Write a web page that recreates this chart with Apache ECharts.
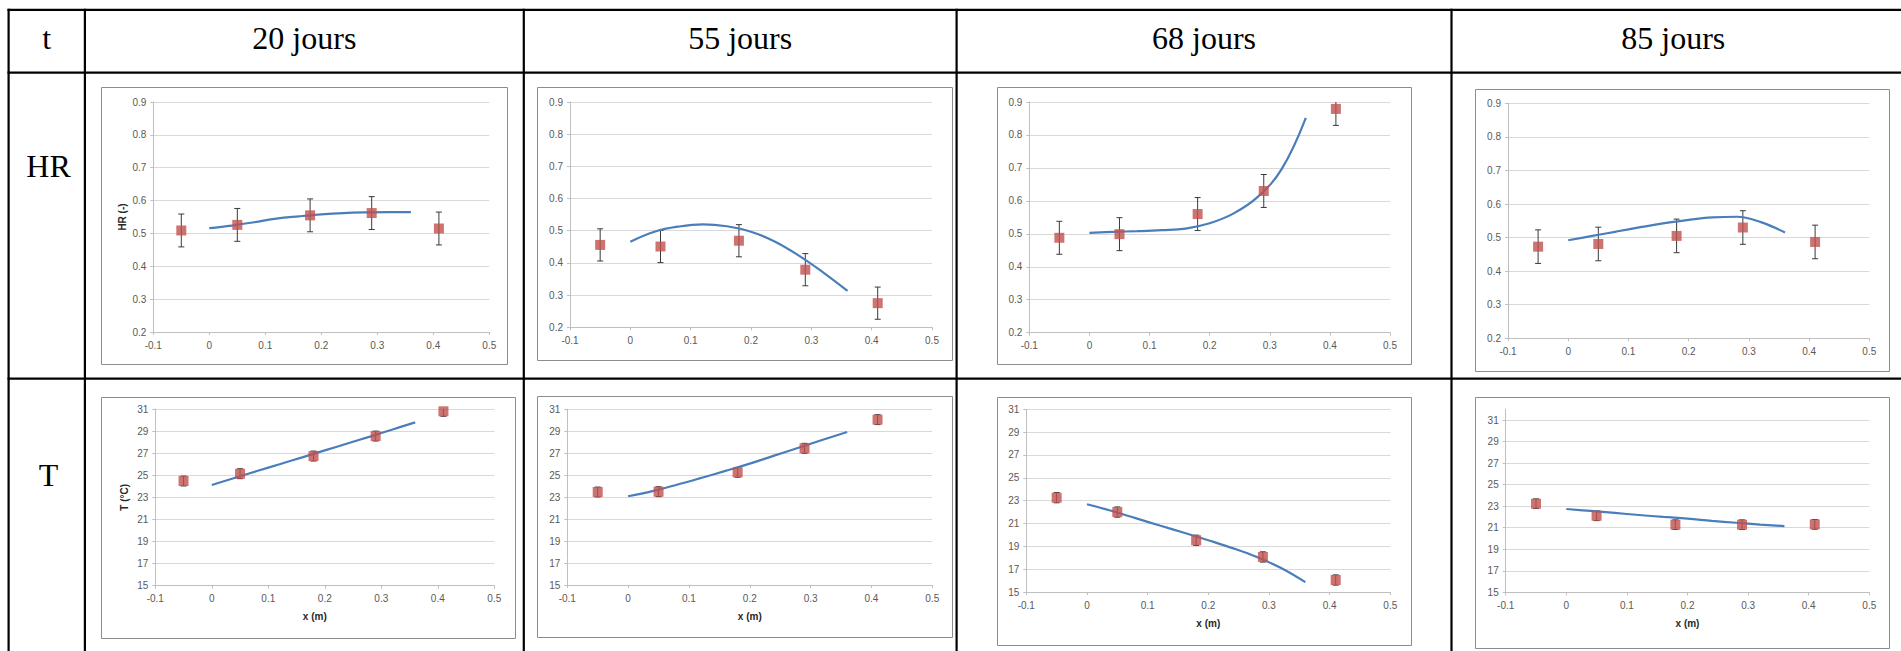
<!DOCTYPE html>
<html>
<head>
<meta charset="utf-8">
<script src="https://cdn.jsdelivr.net/npm/echarts@6/dist/echarts.min.js"></script>
<style>
  html, body { margin: 0; padding: 0; background: #ffffff; }
  #wrap { position: relative; width: 1901px; height: 651px; overflow: hidden; }
  #chart { position: absolute; left: 0; top: 0; width: 1901px; height: 651px; }
  #table { position: absolute; left: 0; top: 0; width: 1901px; height: 651px; pointer-events: none; }
</style>
</head>
<body>
<div id="wrap">
  <div id="chart"></div>
  <svg id="table" width="1901" height="651" xmlns="http://www.w3.org/2000/svg"></svg>
</div>
<script>
// ---------------- data ----------------
const columnTitles = ['20 jours', '55 jours', '68 jours', '85 jours'];
const cornerLabel = 't';
const rowLabels = ['HR', 'T'];

const xPos = [-0.05, 0.05, 0.18, 0.29, 0.41];

const hr20 = [0.509, 0.526, 0.555, 0.562, 0.515];
const hr55 = [0.456, 0.451, 0.469, 0.379, 0.275];
const hr68 = [0.488, 0.499, 0.560, 0.630, 0.879];
const hr85 = [0.473, 0.481, 0.505, 0.530, 0.487];
const hrErr = [0.05, 0.05, 0.05, 0.05, 0.05];

const t20 = [24.48, 25.14, 26.74, 28.55, 30.79];
const t55 = [23.47, 23.50, 25.26, 27.45, 30.06];
const t68 = [23.26, 22.00, 19.53, 18.07, 16.05];
const t85 = [23.23, 22.11, 21.28, 21.28, 21.31];
const tErr = [0.45, 0.45, 0.45, 0.45, 0.45];

const fitX = [0, 0.04, 0.08, 0.12, 0.16, 0.20, 0.24, 0.28, 0.32, 0.36];
const hr20Fit = [0.516, 0.524, 0.534, 0.545, 0.552, 0.558, 0.562, 0.564, 0.565, 0.565];
const hr55Fit = [0.466, 0.497, 0.513, 0.520, 0.514, 0.497, 0.466, 0.422, 0.370, 0.313];
const hr68Fit = [0.503, 0.506, 0.508, 0.511, 0.516, 0.532, 0.562, 0.612, 0.697, 0.852];
const hr85Fit = [0.492, 0.505, 0.518, 0.531, 0.543, 0.553, 0.560, 0.562, 0.546, 0.515];
const t20Fit = [24.12, 24.75, 25.38, 26.00, 26.62, 27.25, 27.88, 28.50, 29.15, 29.79];
const t55Fit = [23.08, 23.55, 24.13, 24.75, 25.39, 26.05, 26.78, 27.50, 28.22, 28.94];
const t68Fit = [22.68, 22.11, 21.47, 20.82, 20.19, 19.53, 18.84, 18.06, 17.10, 15.86];
const t85Fit = [22.74, 22.56, 22.37, 22.18, 22.00, 21.84, 21.64, 21.46, 21.29, 21.15];

const xTicks = { min: -0.1, max: 0.5, interval: 0.1 };
const hrTicks = { min: 0.2, max: 0.9, interval: 0.1 };
const tTicks = { min: 15, max: 31, interval: 2 };
const tTicksLast = { min: 15, max: 32, interval: 2 };

const hrTitle = 'HR (-)';
const tTitle = 'T (°C)';
const xTitle = 'x (m)';

// ---------------- layout (pixels) ----------------
const panels = [
  { vals: hr20, err: hrErr, fit: hr20Fit, ax: hrTicks, yName: hrTitle, xName: '', g: [153.3, 102, 489.3, 332], box: [101.3, 87.3, 507.3, 364] },
  { vals: hr55, err: hrErr, fit: hr55Fit, ax: hrTicks, yName: '', xName: '', g: [570, 102, 932, 327.3], box: [537.3, 86.7, 952, 359.3] },
  { vals: hr68, err: hrErr, fit: hr68Fit, ax: hrTicks, yName: '', xName: '', g: [1029.3, 102, 1390, 332.7], box: [996.7, 87.3, 1410.3, 364.7] },
  { vals: hr85, err: hrErr, fit: hr85Fit, ax: hrTicks, yName: '', xName: '', g: [1508, 103.3, 1869.3, 338.3], box: [1475.3, 88.7, 1889.3, 371] },
  { vals: t20, err: tErr, fit: t20Fit, ax: tTicks, yName: tTitle, xName: xTitle, xShift: 20, g: [155.3, 409, 494.3, 585.7], box: [100.7, 397, 514.3, 638.3] },
  { vals: t55, err: tErr, fit: t55Fit, ax: tTicks, yName: '', xName: xTitle, g: [567.3, 409.3, 932.3, 585], box: [537.3, 396.3, 952.7, 637] },
  { vals: t68, err: tErr, fit: t68Fit, ax: tTicks, yName: '', xName: xTitle, g: [1026.3, 409.3, 1390.3, 592], box: [996.7, 397, 1410.3, 645] },
  { vals: t85, err: tErr, fit: t85Fit, ax: tTicksLast, yName: '', xName: xTitle, g: [1505.7, 409.3, 1869.3, 592.3], box: [1475.3, 397, 1889.3, 647.7] }
];

const labelFont = 'Liberation Sans';
const axisGray = '#bfbfbf';
const gridGray = '#d9d9d9';
const labelColor = '#595959';

const grids = [], xAxes = [], yAxes = [], series = [], graphics = [];

panels.forEach((p, i) => {
  const [l, t, r, b] = p.g;
  grids.push({ left: l, top: t, width: r - l, height: b - t, containLabel: false });
  xAxes.push({
    type: 'value', gridIndex: i, min: xTicks.min, max: xTicks.max, interval: xTicks.interval,
    name: p.xName, nameLocation: 'middle', nameGap: 26,
    nameTextStyle: { fontFamily: labelFont, fontSize: 10, fontWeight: 'bold', color: '#262626',
      padding: p.xShift ? [0, p.xShift, 0, 0] : 0 },
    axisLine: { show: true, onZero: false, lineStyle: { color: axisGray, width: 1 } },
    axisTick: { show: true, length: 3, lineStyle: { color: axisGray } },
    axisLabel: { color: labelColor, fontFamily: labelFont, fontSize: 10, margin: 8,
      formatter: v => String(Math.round(v * 10) / 10) },
    splitLine: { show: false }
  });
  yAxes.push({
    type: 'value', gridIndex: i, min: p.ax.min, max: p.ax.max, interval: p.ax.interval,
    name: p.yName, nameLocation: 'middle', nameGap: 26, nameRotate: 90,
    nameTextStyle: { fontFamily: labelFont, fontSize: 10, fontWeight: 'bold', color: '#262626' },
    axisLine: { show: true, onZero: false, lineStyle: { color: axisGray, width: 1 } },
    axisTick: { show: true, length: 3, lineStyle: { color: axisGray } },
    axisLabel: { color: labelColor, fontFamily: labelFont, fontSize: 10, margin: 7,
      showMaxLabel: p.ax.max % p.ax.interval === (p.ax.min % p.ax.interval) || p.ax.max === 0.9,
      formatter: v => {
        if (p.ax.interval < 1) return String(Math.round(v * 10) / 10);
        return ((v - p.ax.min) % p.ax.interval === 0) ? String(v) : '';
      } },
    splitLine: { show: true, showMaxLine: (p.ax.max - p.ax.min) % p.ax.interval < 1e-9 || p.ax.interval < 1,
      lineStyle: { color: gridGray, width: 1 } }
  });

  // error bars
  series.push({
    type: 'custom', xAxisIndex: i, yAxisIndex: i, clip: true, z: 2, silent: true,
    data: xPos.map((x, k) => [x, p.vals[k] - p.err[k], p.vals[k] + p.err[k]]),
    renderItem: (params, api) => {
      const lo = api.coord([api.value(0), api.value(1)]);
      const hi = api.coord([api.value(0), api.value(2)]);
      const w = 3;
      const st = { stroke: '#3a3a3a', lineWidth: 1 };
      return { type: 'group', children: [
        { type: 'line', shape: { x1: lo[0], y1: lo[1], x2: hi[0], y2: hi[1] }, style: st },
        { type: 'line', shape: { x1: lo[0] - w, y1: lo[1], x2: lo[0] + w, y2: lo[1] }, style: st },
        { type: 'line', shape: { x1: hi[0] - w, y1: hi[1], x2: hi[0] + w, y2: hi[1] }, style: st }
      ] };
    }
  });
  // trend line
  series.push({
    type: 'line', xAxisIndex: i, yAxisIndex: i, z: 3, silent: true,
    data: fitX.map((x, k) => [x, p.fit[k]]),
    showSymbol: false, smooth: 0.4,
    lineStyle: { color: '#4a7ebb', width: 2.2 }
  });
  // measured points
  series.push({
    type: 'scatter', xAxisIndex: i, yAxisIndex: i, z: 4, silent: true,
    data: xPos.map((x, k) => [x, p.vals[k]]),
    symbol: 'rect', symbolSize: 10,
    itemStyle: { color: '#c0504d' }
  });

  const [bl, bt, br, bb] = p.box;
  graphics.push({
    type: 'rect', z: -1, silent: true,
    shape: { x: Math.round(bl) + 0.5, y: Math.round(bt) + 0.5, width: Math.round(br - bl), height: Math.round(bb - bt) },
    style: { fill: '#ffffff', stroke: '#8c8c8c', lineWidth: 1 }
  });
});

const chart = echarts.init(document.getElementById('chart'), null, { renderer: 'svg', width: 1901, height: 651 });
chart.setOption({
  animation: false,
  backgroundColor: '#ffffff',
  grid: grids,
  xAxis: xAxes,
  yAxis: yAxes,
  series: series,
  graphic: graphics
});

// ---------------- table (lines + text) ----------------
const svg = document.getElementById('table');
const NS = 'http://www.w3.org/2000/svg';
function line(x1, y1, x2, y2) {
  const e = document.createElementNS(NS, 'line');
  e.setAttribute('x1', x1); e.setAttribute('y1', y1);
  e.setAttribute('x2', x2); e.setAttribute('y2', y2);
  e.setAttribute('stroke', '#000'); e.setAttribute('stroke-width', 2.2);
  svg.appendChild(e);
}
function text(str, x, y) {
  const e = document.createElementNS(NS, 'text');
  e.setAttribute('x', x); e.setAttribute('y', y);
  e.setAttribute('text-anchor', 'middle');
  e.setAttribute('font-family', 'Liberation Serif');
  e.setAttribute('font-size', 32);
  e.setAttribute('fill', '#000');
  e.textContent = str;
  svg.appendChild(e);
}
const colX = [8.6, 84.9, 523.8, 956.6, 1451.5];
const rowY = [9.8, 72.6, 378.6];
rowY.forEach(y => line(colX[0] - 1.1, y, 1901, y));
colX.forEach(x => line(x, rowY[0] - 1.1, x, 651));

text(cornerLabel, (colX[0] + colX[1]) / 2, 49);
const rightEdge = 1895;
columnTitles.forEach((s, k) => {
  const a = colX[k + 1], b = k + 2 < colX.length ? colX[k + 2] : rightEdge;
  text(s, (a + b) / 2, 49);
});
text(rowLabels[0], 48.5, 177);
text(rowLabels[1], 48.5, 486);
</script>
</body>
</html>
